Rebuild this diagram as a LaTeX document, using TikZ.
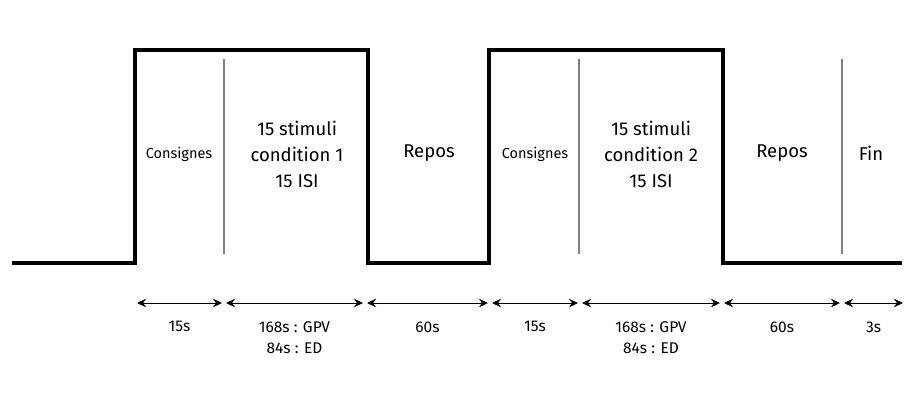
\documentclass[tikz,border=0pt]{standalone}
\usepackage{fontspec}
\setmainfont{Fira Sans}
\usetikzlibrary{arrows.meta,positioning}

\begin{document}
\begin{tikzpicture}[x=1pt, y=-1pt, >={Stealth[length=9pt,width=8.5pt]},
    signal/.style={line width=3.8pt, line join=miter},
    divider/.style={draw=gray, line width=1.3pt},
    phase/.style={align=center, font=\fontsize{18.5}{26}\selectfont, inner sep=0pt},
    smallphase/.style={font=\fontsize{14.5}{17}\selectfont, inner sep=0pt},
    span/.style={<->, line width=1pt, shorten <=2pt, shorten >=2pt},
    duration/.style={align=center, font=\fontsize{15.5}{21}\selectfont, inner sep=0pt, below=18pt}]

    \useasboundingbox (0,0) rectangle (918,399);

    \draw [signal] (12,263) -| (135,50) -| (368,263) -| (489,50) -| (723,263) -- (902,263);
    \foreach \x in {224,579,842}
        \draw [divider] (\x,59) -- (\x,254);

    \node [smallphase] (consA) at (179,154) {Consignes};
    \node [phase] (stimA) at (297,154) {15 stimuli\\condition 1\\15 ISI};
    \node [phase] (reposA) at (429,153) {Repos};
    \node [smallphase] (consB) at (535,154) {Consignes};
    \node [phase] (stimB) at (651,154) {15 stimuli\\condition 2\\15 ISI};
    \node [phase] (reposB) at (782,153) {Repos};
    \node [phase] (fin) at (871,153) {Fin};

    \foreach \x [count=\i] in {135,224,365,490,580,722,842,905}
        \coordinate (b\i) at (\x,303);
    \foreach \a/\b/\t in {1/2/15s, 2/3/{168s : GPV\\84s : ED}, 3/4/60s, 4/5/15s, 5/6/{168s : GPV\\84s : ED}, 6/7/60s, 7/8/3s}
        \draw [span] (b\a) -- node [duration] (d\a) {\t} (b\b);
\end{tikzpicture}
\end{document}
